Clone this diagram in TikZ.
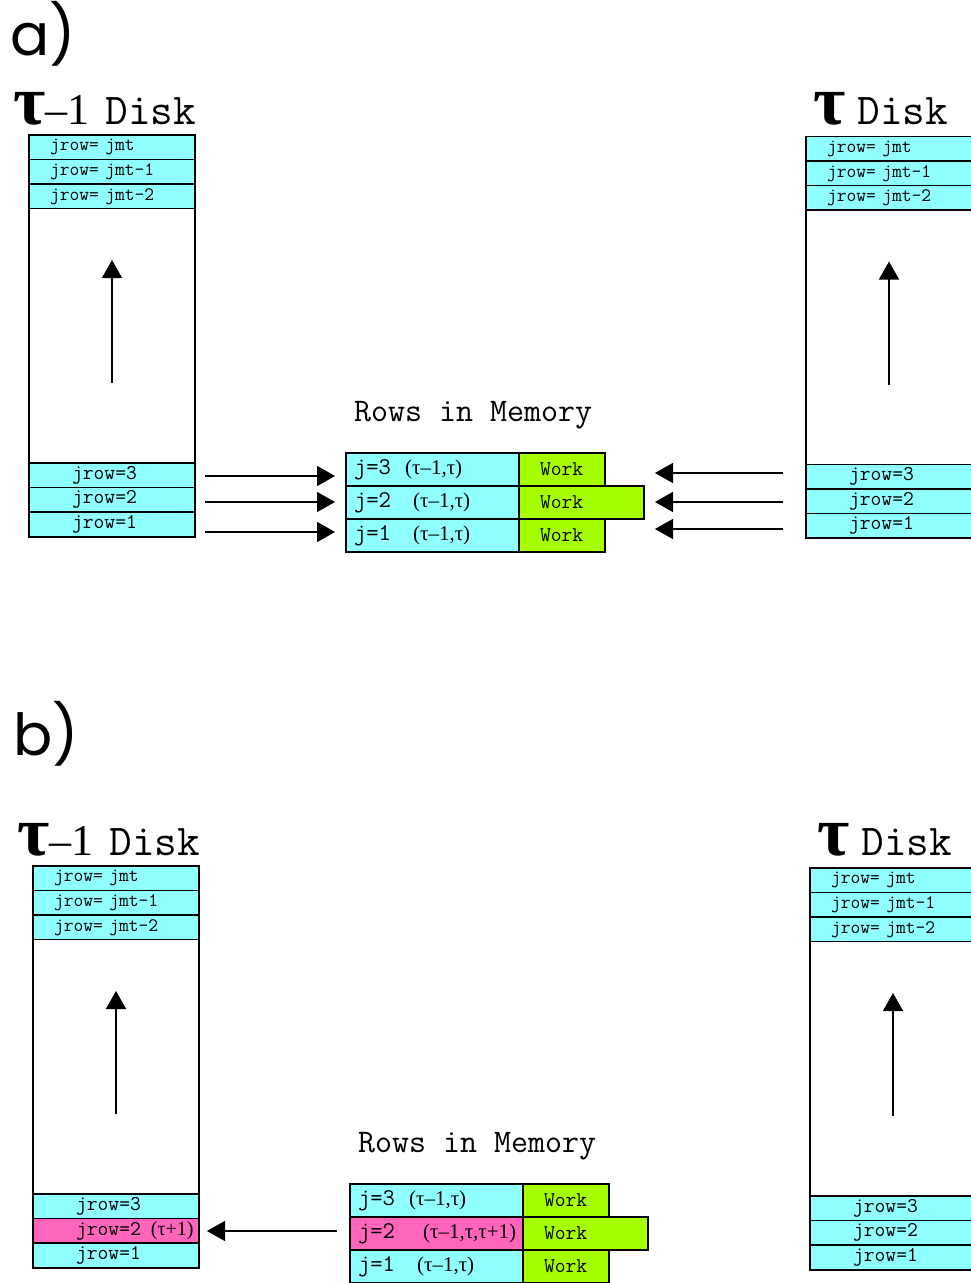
\documentclass[tikz,border=0pt]{standalone}
\usepackage{fontspec}
\usetikzlibrary{arrows.meta}
\newfontfamily\serif{Liberation Serif}
\newfontfamily\lab{Poppins}
\newcommand\cour{\ttfamily}
\newcommand\fs[1]{\fontsize{#1}{#1}\selectfont}
\definecolor{cyanrow}{RGB}{143,255,255}
\definecolor{limework}{RGB}{166,255,0}
\definecolor{pinkrow}{RGB}{255,102,187}
\tikzset{
  cell/.style={draw=black, line width=1.5pt, inner ysep=0pt, outer sep=0pt, anchor=north west, align=left},
  diskbox/.style={draw=black, line width=1.5pt, fill=white, minimum width=166pt, minimum height=402pt, inner sep=0pt, outer sep=0pt, anchor=north west},
  toprow/.style={cell, fill=cyanrow, minimum height=24.5pt, text width=124pt, inner xsep=21pt, font=\cour\fs{19}},
  botrow/.style={cell, fill=cyanrow, minimum height=24.5pt, text width=80pt, inner xsep=43pt, font=\cour\fs{21}},
  pinkcell/.style={fill=pinkrow},
  memrow/.style={cell, fill=cyanrow, minimum height=33pt, text width=157pt, inner xsep=8pt, font=\cour\fs{24}},
  workcell/.style={cell, fill=limework, minimum height=33pt, text width=44pt, inner xsep=21pt, font=\cour\fs{21}},
  wideworkcell/.style={workcell, text width=83pt},
  arr/.style={line width=1.5pt, -{Triangle[length=18pt,width=20pt]}},
  title/.style={anchor=base west, inner sep=0pt},
  panellabel/.style={anchor=base west, inner sep=0pt, font=\lab\fs{58}},
  memtitle/.style={anchor=base west, inner sep=0pt, font=\cour\fs{33}}
}
\newcommand\disktitle[1]{{\serif\bfseries\fs{70}τ}#1{\cour\fs{44}Disk}}
\newcommand\mkdisk[5]{%
  \node[diskbox] (#1) at (#2,#3) {};
  \node[toprow] (#1t1) at (#2,#3) {jrow= jmt};
  \node[toprow] (#1t2) at (#2,#3+24.5) {jrow= jmt-1};
  \node[toprow] (#1t3) at (#2,#3+49) {jrow= jmt-2};
  \node[botrow] (#1b3) at (#2,#3+328) {jrow=3};
  \node[botrow,#4] (#1b2) at (#2,#3+352.5) {\mbox{jrow=2#5}};
  \node[botrow] (#1b1) at (#2,#3+377) {jrow=1};
  \coordinate (#1s) at (#2+83,#3+248);
  \coordinate (#1e) at (#2+83,#3+125);
  \draw[arr] (#1s) -- (#1e);
}
\newcommand\mkmem[5]{%
  \node[memrow] (#1c3) at (#2,#3) {\mbox{j=3\hspace{14pt}{\serif\fs{21}(τ–1,τ)}}};
  \node[memrow,#4] (#1c2) at (#2,#3+33) {\mbox{j=2\hspace{22pt}{\serif\fs{21}#5}}};
  \node[memrow] (#1c1) at (#2,#3+66) {\mbox{j=1\hspace{22pt}{\serif\fs{21}(τ–1,τ)}}};
  \node[workcell] (#1g3) at (#2+173,#3) {Work};
  \node[wideworkcell] (#1g2) at (#2+173,#3+33) {Work};
  \node[workcell] (#1g1) at (#2+173,#3+66) {Work};
  \node[memtitle] (#1title) at (#2+8,#3-32) {Rows in Memory};
}
\begin{document}
\begin{tikzpicture}[x=1pt,y=-1pt]
\useasboundingbox (0,0) rectangle (970,1283);
% ---------- a) ----------
\node[panellabel] (la) at (10,55) {a)};
\node[title] (tLA) at (13,124) {\disktitle{{\serif\fs{44}–1}\hspace{16pt}}};
\node[title] (tRA) at (813,124) {\disktitle{\hspace{12pt}}};
\mkdisk{LA}{29}{135}{}{}
\mkdisk{RA}{806}{136.5}{}{}
\mkmem{MA}{346}{453}{}{(τ–1,τ)}
\coordinate (al3) at (205,476);
\coordinate (al2) at (205,502);
\coordinate (al1) at (205,532);
\draw[arr, shorten >=11pt] (al3) -- (al3 -| MAc3.west);
\draw[arr, shorten >=11pt] (al2) -- (al2 -| MAc2.west);
\draw[arr, shorten >=11pt] (al1) -- (al1 -| MAc1.west);
\coordinate (ar3) at (783,473);
\coordinate (ar2) at (783,502);
\coordinate (ar1) at (783,529);
\draw[arr, shorten >=11pt] (ar3) -- (ar3 -| MAg2.east);
\draw[arr, shorten >=11pt] (ar2) -- (ar2 -| MAg2.east);
\draw[arr, shorten >=11pt] (ar1) -- (ar1 -| MAg2.east);
% ---------- b) ----------
\node[panellabel] (lb) at (13,755) {b)};
\node[title] (tLB) at (17,855) {\disktitle{{\serif\fs{44}–1}\hspace{16pt}}};
\node[title] (tRB) at (817,855) {\disktitle{\hspace{12pt}}};
\mkdisk{LB}{33}{866}{pinkcell}{\hspace{10pt}{\serif\fs{20}(τ+1)}}
\mkdisk{RB}{810}{868}{}{}
\mkmem{MB}{350}{1184}{pinkcell}{\hspace{6pt}(τ–1,τ,τ+1)}
\coordinate (bl2) at (337,1231);
\draw[arr, shorten >=8pt] (bl2) -- (bl2 -| LBb2.east);
\end{tikzpicture}
\end{document}
